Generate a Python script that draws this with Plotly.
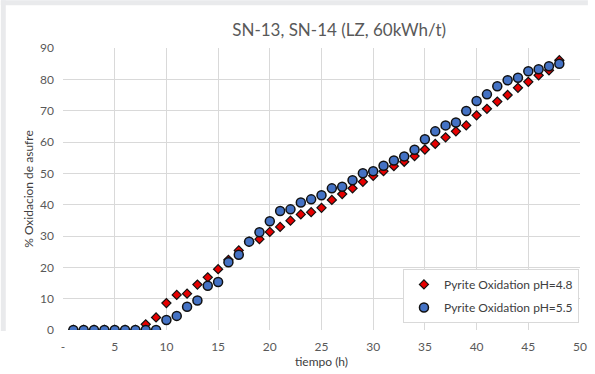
import plotly.graph_objects as go

tiempo = list(range(1, 49))
ph48 = [0, 0, 0, 0, 0, 0, 0, 1.8, 4.0, 8.6, 11.2, 11.6, 14.5, 16.8, 19.4, 22.4, 25.4, 28.2, 29.0, 31.3,
        32.9, 34.9, 36.9, 37.6, 39.0, 41.5, 43.4, 45.2, 47.3, 49.2, 50.7, 52.3, 53.7, 55.5, 57.6, 59.4,
        61.5, 63.4, 65.3, 68.5, 70.6, 72.9, 75.0, 77.3, 79.2, 81.3, 82.9, 86.1]
ph55 = [0, 0, 0, 0, 0, 0, 0, 0, 0, 3.2, 4.5, 7.4, 9.4, 14.1, 15.3, 21.6, 24.0, 28.2, 31.2, 34.7,
        38.0, 38.5, 40.7, 41.7, 43.0, 45.2, 45.7, 47.8, 50.0, 50.7, 52.4, 54.1, 55.4, 57.5, 60.9, 63.4,
        65.3, 66.2, 69.9, 73.1, 75.2, 77.8, 79.7, 80.5, 82.6, 83.2, 84.2, 85.0]
xticks = [0, 5, 10, 15, 20, 25, 30, 35, 40, 45, 50]
xticktext = ["-", "5", "10", "15", "20", "25", "30", "35", "40", "45", "50"]
yticks = [0, 10, 20, 30, 40, 50, 60, 70, 80, 90]

FONT = "Lato, Open Sans, sans-serif"

fig = go.Figure()
fig.add_trace(go.Scatter(
    x=tiempo, y=ph48, mode="markers", name="Pyrite Oxidation pH=4.8", legendgroup="a",
    marker=dict(symbol="diamond", size=7, color="#E60000", line=dict(color="#111111", width=1.2)),
))
fig.add_trace(go.Scatter(
    x=tiempo, y=ph55, mode="markers", name="Pyrite Oxidation pH=5.5", legendgroup="b",
    marker=dict(symbol="circle", size=9, color="#4472C4", line=dict(color="#111111", width=1.5)),
))

# light gray frame strips at the top and left edges of the picture
pw, ph = 524.0, 284.0
def px(x):
    return (x - 63) / pw
def py(y):
    return (332 - y) / ph
fig.add_shape(type="rect", xref="paper", yref="paper", x0=px(0), x1=px(595), y0=py(5), y1=py(0),
              fillcolor="#e9eaec", line=dict(width=0), layer="below")
fig.add_shape(type="rect", xref="paper", yref="paper", x0=px(0), x1=px(5), y0=py(333), y1=py(0),
              fillcolor="#e9eaec", line=dict(width=0), layer="below")

fig.update_layout(
    width=595, height=374,
    margin=dict(l=63, r=8, t=48, b=42),
    paper_bgcolor="white", plot_bgcolor="white",
    font=dict(family=FONT, color="#404040", size=12),
    title=dict(text="SN-13, SN-14 (LZ, 60kWh/t)", x=0.57, xanchor="center", y=0.92, yanchor="middle",
               font=dict(family=FONT, size=17, color="#595959")),
    xaxis=dict(range=[0, 50], tickvals=xticks, ticktext=xticktext, showgrid=True,
               gridcolor="#d9d9d9", gridwidth=1, zeroline=False, showline=False,
               ticks="", ticklabelstandoff=8, tickfont=dict(family=FONT, size=12, color="#595959"),
               title=dict(text="tiempo (h)", font=dict(family=FONT, size=12, color="#404040"), standoff=4)),
    yaxis=dict(range=[0, 90], tickvals=yticks, showgrid=True, gridcolor="#d9d9d9", gridwidth=1,
               zeroline=False, showline=False, ticks="", ticklabelstandoff=8,
               tickfont=dict(family=FONT, size=12, color="#595959"),
               title=dict(text="% Oxidacion de asufre", font=dict(family=FONT, size=12, color="#404040"), standoff=3)),
    legend=dict(x=0.998, y=0.025, xanchor="right", yanchor="bottom", bgcolor="white",
                bordercolor="#d9d9d9", borderwidth=1, font=dict(family=FONT, size=12, color="#404040"),
                itemsizing="trace", itemwidth=30, tracegroupgap=4),
    showlegend=True,
)

fig.write_html("out.html")
